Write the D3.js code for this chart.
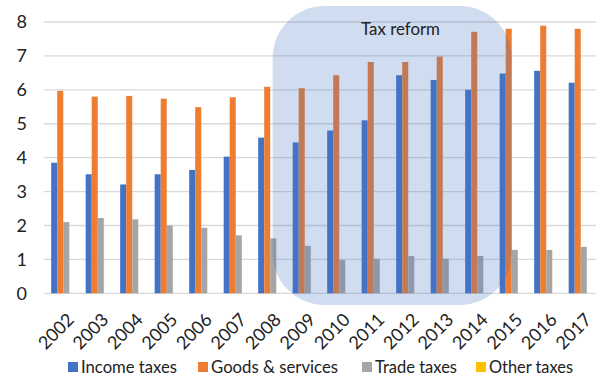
<!DOCTYPE html>
<html><head><meta charset="utf-8">
<script src="https://cdn.jsdelivr.net/npm/d3@7"></script>
<style>body{margin:0;background:#fff;} svg{display:block;font-family:Lato,"Open Sans",sans-serif;}</style>
</head><body><svg id="c" width="597" height="378"></svg>
<script>
const years = ["2002","2003","2004","2005","2006","2007","2008","2009","2010","2011","2012","2013","2014","2015","2016","2017"];
const incomeTaxes = [3.85,3.51,3.21,3.51,3.64,4.03,4.59,4.45,4.80,5.10,6.43,6.29,6.00,6.48,6.56,6.21];
const goodsServices = [5.97,5.80,5.82,5.74,5.49,5.78,6.09,6.05,6.43,6.82,6.82,6.98,7.71,7.80,7.89,7.80];
const tradeTaxes = [2.10,2.22,2.18,2.00,1.93,1.71,1.62,1.40,0.98,1.02,1.10,1.02,1.10,1.28,1.28,1.37];
const otherTaxes = [0,0,0,0,0,0,0,0,0,0,0,0,0,0,0,0];
const seriesNames = ["Income taxes","Goods & services","Trade taxes","Other taxes"];
const seriesColors = ["#4472C4","#ED7D31","#A5A5A5","#FFC000"];
const yTicks = [0,1,2,3,4,5,6,7,8];
const reformStart = "2009", reformEnd = "2014";
const series = [incomeTaxes, goodsServices, tradeTaxes, otherTaxes];

const svg = d3.select("#c");
const L = 44, R = 596, T = 22, B = 293.3;
const x = d3.scaleBand().domain(years).range([L, R]).paddingInner(0.3).paddingOuter(0.15);
const x1 = d3.scaleBand().domain(d3.range(4)).range([0, x.bandwidth()]);
const y = d3.scaleLinear().domain([0, 8]).range([B, T]);

// gridlines
svg.append("g").selectAll("line").data(yTicks).join("line")
  .attr("x1", L).attr("x2", R).attr("y1", d => y(d)).attr("y2", d => y(d))
  .attr("stroke", "#d9d9d9").attr("stroke-width", 1.3);

// y labels
svg.append("g").selectAll("text").data(yTicks).join("text")
  .attr("x", 27).attr("y", d => y(d)).attr("dy", "0.36em")
  .attr("text-anchor", "end").attr("font-size", 18).attr("fill", "#222")
  .text(d => d);

// bars
const g = svg.append("g");
series.forEach((vals, si) => {
  g.selectAll(".s" + si).data(years).join("rect")
    .attr("x", d => x(d) + x1(si) + 2).attr("width", x1.bandwidth())
    .attr("y", (d, i) => y(vals[i])).attr("height", (d, i) => y(0) - y(vals[i]))
    .attr("fill", seriesColors[si]);
});

// tax reform overlay
const step = x.step();
const rx0 = x(reformStart) - 18;
const rx1 = x(reformEnd) + step + 14;
svg.append("rect").attr("x", rx0).attr("y", 6).attr("width", rx1 - rx0).attr("height", 299)
  .attr("rx", 52).attr("ry", 52).attr("fill", "#4472C4").attr("fill-opacity", 0.25);
svg.append("text").attr("x", 361).attr("y", 35)
  .attr("textLength", 79).attr("lengthAdjust", "spacingAndGlyphs")
  .attr("font-size", 18).attr("fill", "#222").text("Tax reform");

// x labels
svg.append("g").selectAll("text").data(years).join("text")
  .attr("transform", d => `translate(${x(d) + x.bandwidth()/2 + 5},${312}) rotate(-45)`)
  .attr("text-anchor", "end").attr("dy", "0.7em")
  .attr("font-size", 18).attr("fill", "#222").text(d => d);

// legend
const legX = [68, 198, 362, 476];
const legLen = [96, 127, 82, 84];
const lg = svg.append("g");
seriesNames.forEach((n, i) => {
  lg.append("rect").attr("x", legX[i]).attr("y", 362).attr("width", 10).attr("height", 10).attr("fill", seriesColors[i]);
  lg.append("text").attr("x", legX[i] + 13).attr("y", 373)
    .attr("textLength", legLen[i]).attr("lengthAdjust", "spacingAndGlyphs")
    .attr("font-size", 18).attr("fill", "#222").text(n);
});
</script></body></html>
